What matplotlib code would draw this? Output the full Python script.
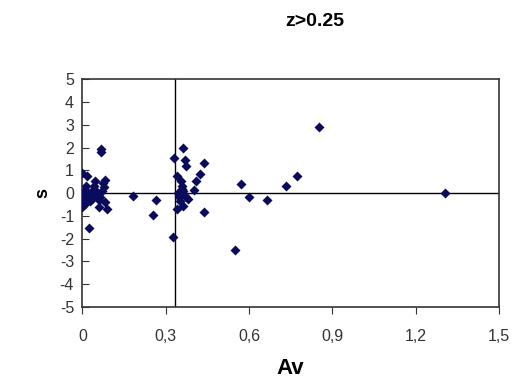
import matplotlib.pyplot as plt
from matplotlib.ticker import FuncFormatter

plt.rcParams['font.family'] = ['Liberation Sans', 'DejaVu Sans']
plt.rcParams['axes.unicode_minus'] = False

# datos (Av, s)
av = [0.067, 0.066, 0.0, 0.016, 0.046, 0.082, 0.04, 0.076, 0.004, 0.0,
      0.016, 0.034, 0.01, 0.064, 0.082, 0.088, 0.058, 0.0, 0.022, 0.02,
      0.03, 0.05, 0.07, 0.012, 0.028, 0.06, 0.044, 0.008, 0.074, 0.026,
      0.183, 0.264, 0.253,
      0.363, 0.33, 0.369, 0.373, 0.439, 0.423, 0.41, 0.40, 0.34, 0.354,
      0.357, 0.363, 0.37, 0.351, 0.34, 0.363, 0.381, 0.438, 0.325, 0.345,
      0.348, 0.36,
      0.57, 0.60, 0.663, 0.733, 0.773, 0.852, 0.549, 1.307]
s = [1.92, 1.8, 0.9, 0.76, 0.54, 0.57, 0.32, 0.25, 0.1, -0.19,
     -0.12, -0.26, -0.41, -0.19, -0.41, -0.7, -0.63, -0.63, -1.53, 0.0,
     0.05, -0.05, 0.1, 0.3, -0.35, -0.3, 0.15, -0.5, 0.45, -0.2,
     -0.14, -0.3, -0.96,
     1.99, 1.55, 1.44, 1.19, 1.31, 0.83, 0.54, 0.13, 0.76, 0.54,
     0.32, 0.1, -0.12, -0.34, -0.7, -0.55, -0.26, -0.85, -1.91, 0.0,
     -0.15, 0.2,
     0.42, -0.16, -0.31, 0.32, 0.76, 2.91, -2.48, 0.0]

xticks = [0, 0.3, 0.6, 0.9, 1.2, 1.5]
yticks = list(range(-5, 6))
av_linea = 0.335

fig = plt.figure(figsize=(5.15, 3.87), dpi=100)
ax = fig.add_axes([0.16, 0.207, 0.809, 0.588])

ax.axhline(0, color='black', lw=1.0, zorder=1)
ax.axvline(av_linea, color='black', lw=1.0, zorder=1)
ax.scatter(av, s, marker='D', s=26, color='#0b0b5e', zorder=3, linewidths=0)

ax.set_xlim(0, 1.5)
ax.set_ylim(-5, 5)
ax.set_xticks(xticks)
ax.set_yticks(yticks)
ax.xaxis.set_major_formatter(FuncFormatter(lambda v, p: ('%g' % v).replace('.', ',')))
ax.tick_params(axis='x', direction='out', length=5, labelsize=11.5, pad=11, colors='#333333')
ax.tick_params(axis='y', direction='in', length=5, labelsize=11.5, pad=6, colors='#333333')
for sp in ax.spines.values():
    sp.set_linewidth(1.2)
    sp.set_color('#333333')

ax.set_xlabel('Av', fontsize=16, fontweight='bold', labelpad=10)
ax.set_ylabel('s', fontsize=13, fontweight='bold', labelpad=6)
fig.text(0.612, 0.945, 'z>0.25', fontsize=14, fontweight='bold', ha='center', va='center')

fig.savefig('out.png', dpi=100)
